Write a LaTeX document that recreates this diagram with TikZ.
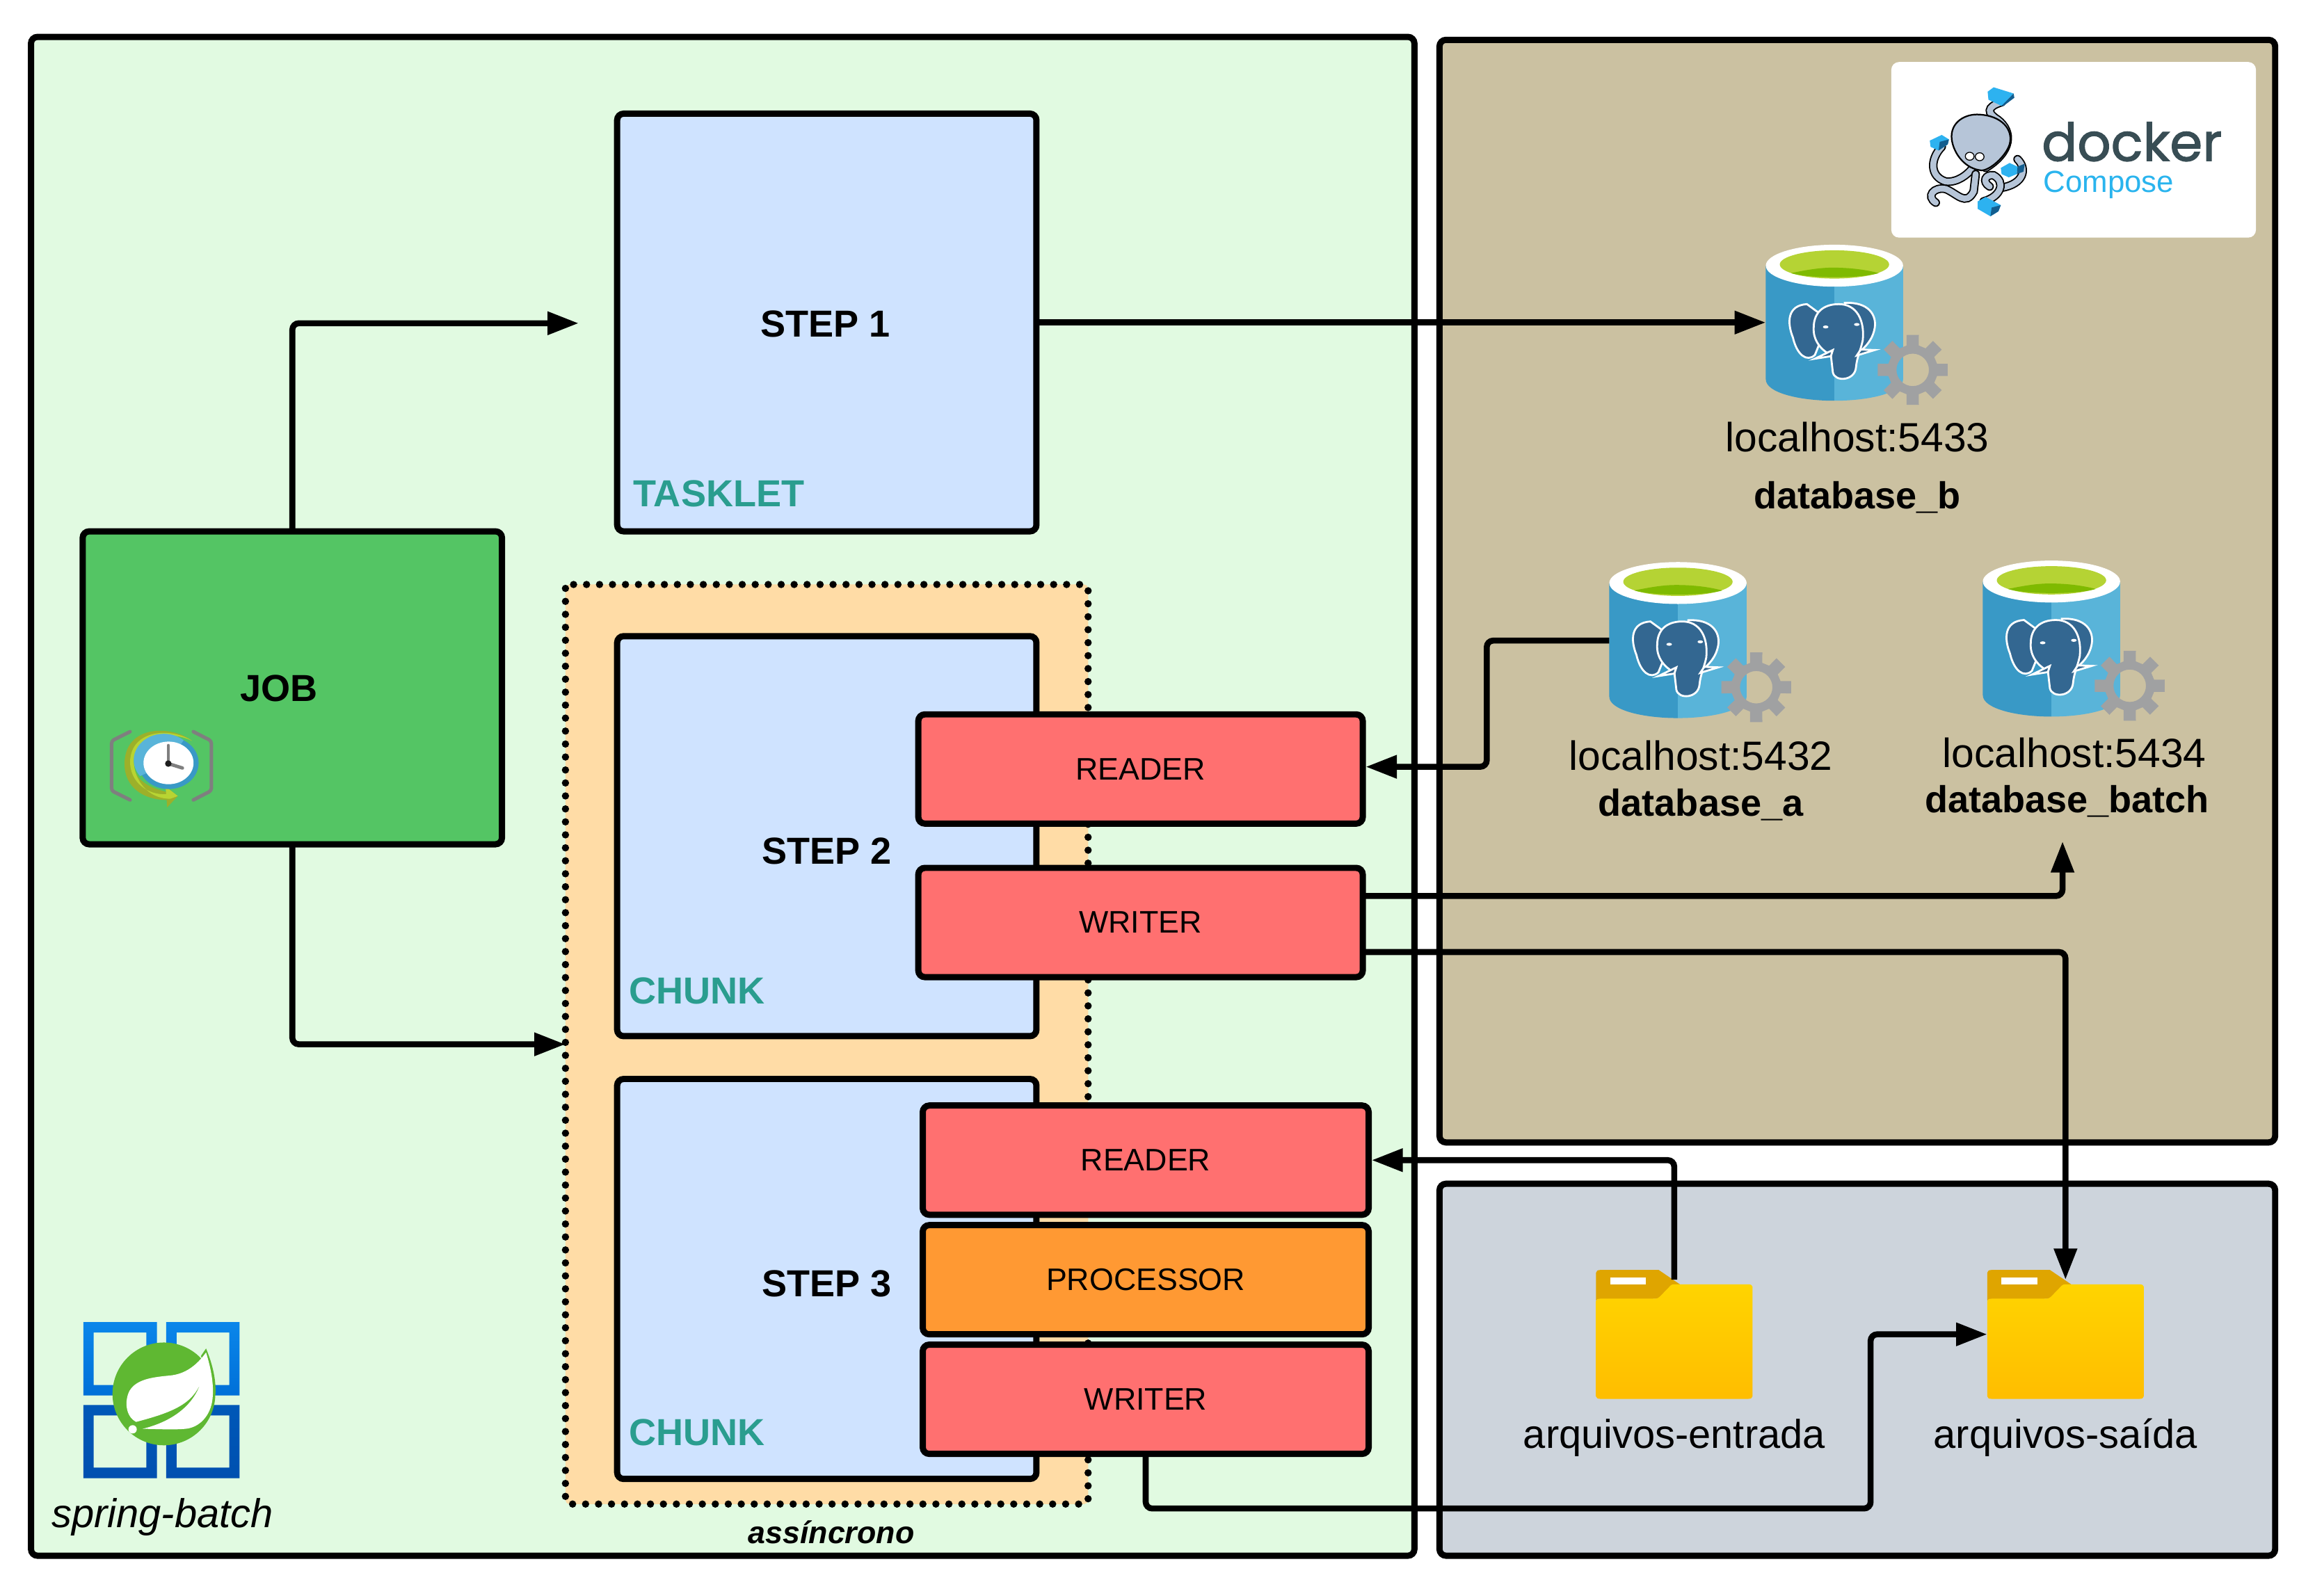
\documentclass[tikz,border=0pt]{standalone}
\usepackage{fontspec}
\setmainfont{Liberation Sans}
\newfontfamily\dockerfont[FakeBold=1.5]{Poppins}
\usetikzlibrary{arrows.meta}
\definecolor{bggreen}{HTML}{E1FAE1}
\definecolor{bgtan}{HTML}{CBC1A1}
\definecolor{bggray}{HTML}{CDD4DC}
\definecolor{stepblue}{HTML}{CFE3FF}
\definecolor{jobgreen}{HTML}{54C564}
\definecolor{asyncorange}{HTML}{FFDCA6}
\definecolor{redbox}{HTML}{FF7070}
\definecolor{orangebox}{HTML}{FF9933}
\definecolor{tealtxt}{HTML}{2A9D8F}
\definecolor{octo}{HTML}{B6C5D8}
\definecolor{cubelight}{HTML}{2DB2F0}
\definecolor{cubedark}{HTML}{135E8F}
\definecolor{dockertxt}{HTML}{384D54}
\definecolor{composetxt}{HTML}{2AB4EE}
\definecolor{gearcol}{HTML}{A0A1A2}
\definecolor{dbdark}{HTML}{3999C6}
\definecolor{dblight}{HTML}{59B4D9}
\definecolor{dblime}{HTML}{B5D334}
\definecolor{dbgreen}{HTML}{7FBA00}
\definecolor{pgblue}{HTML}{336791}
\definecolor{springgreen}{HTML}{5FB832}
\definecolor{foldertab}{HTML}{DFA500}
\definecolor{foldertop}{HTML}{FFD400}
\definecolor{folderbot}{HTML}{FFBD00}
\definecolor{clockgray}{HTML}{7F7F7F}
\definecolor{arrowdark}{HTML}{9CB02A}
\definecolor{arrowlight}{HTML}{B8D432}
\definecolor{clockhub}{HTML}{1E1E1E}
\definecolor{sqtopa}{HTML}{0A86EA}
\definecolor{sqtopb}{HTML}{0070D8}
\definecolor{sqbota}{HTML}{0058B8}
\definecolor{sqbotb}{HTML}{0050B0}
\tikzset{
  wh/.style 2 args={minimum width=#1*0.04cm, minimum height=#2*0.04cm},
  box/.style={draw=black, line width=4.8pt, rounded corners=5pt, inner sep=0pt, outer sep=0pt},
  iconbox/.style={inner sep=0pt, outer sep=0pt},
  steplabel/.style={font=\fontsize{29}{32}\selectfont\bfseries},
  typelabel/.style={font=\fontsize{29}{32}\selectfont\bfseries, text=tealtxt},
  iolabel/.style={font=\fontsize{24}{27}\selectfont},
  dblabel/.style={font=\fontsize{31.5}{34}\selectfont},
  filelabel/.style={font=\fontsize{31}{34}\selectfont},
  dbname/.style={font=\fontsize{29}{32}\selectfont\bfseries},
  conn/.style={draw=black, line width=4.6pt, rounded corners=5pt, -{Triangle[length=24pt,width=17pt]}},
  tent/.style={double=octo, double distance=4.6pt, line width=1pt, line cap=round},
  pics/dbicon/.style={code={
    \fill[dbdark] (-46.5,0) -- (-46.5,77) .. controls (-46.5,86) and (-24,91.5) .. (0,91.5) -- (0,0) -- cycle;
    \fill[dblight] (0,0) -- (0,91.5) .. controls (24,91.5) and (46.5,86) .. (46.5,77) -- (46.5,0) -- cycle;
    \fill[white] (0,0) ellipse (46.5 and 14.2);
    \begin{scope}[xscale=0.27027,yscale=0.16807,shift={(-414,-960)}]
      \fill[dblime] (414,955) ellipse (137 and 57);
      \fill[dbgreen] (305,990) .. controls (350,975) and (380,968) .. (410,968) .. controls (450,968) and (490,975) .. (525,990) .. controls (480,1012) and (350,1012) .. (305,990) -- cycle;
      \begin{scope}[draw=white, fill=pgblue, line width=1.5pt]
        \filldraw (345,1115) .. controls (295,1120) and (295,1190) .. (310,1250) .. controls (320,1320) and (345,1350) .. (365,1320) -- (400,1180) -- cycle;
        \filldraw (440,1110) .. controls (500,1105) and (520,1160) .. (515,1210) .. controls (510,1260) and (490,1290) .. (475,1310) -- (440,1200) -- cycle;
        \filldraw (362,1210) .. controls (362,1150) and (385,1115) .. (425,1115) .. controls (470,1115) and (490,1180) .. (485,1260) .. controls (480,1300) and (470,1330) .. (468,1370) .. controls (465,1425) and (415,1430) .. (410,1390) -- (405,1320) .. controls (380,1300) and (360,1260) .. (362,1210) -- cycle;
        \filldraw (365,1335) -- (410,1300) -- (405,1325) -- cycle;
        \filldraw (470,1322) -- (515,1300) -- (480,1298) -- cycle;
      \end{scope}
      \fill[white] (392,1207) ellipse (7 and 6);
      \fill[white] (470,1197) ellipse (7 and 6);
    \end{scope}
    \begin{scope}[shift={(53,70.6)}]
      \fill[gearcol, even odd rule] (-10:24) \foreach \a in {0,45,...,315}{ -- ({\a-10}:24) -- ({\a+10}:24) -- ({\a+14}:17) -- ({\a+31}:17)} -- cycle
        (0,0) ellipse (11 and 11);
    \end{scope}
  }},
  pics/foldericon/.style={code={
    \begin{scope}[xscale=0.27027,yscale=0.15686,shift={(-274,-416)}]
      \fill[foldertab] (78,150) .. controls (78,142) and (82,138) .. (90,138) -- (235,138) -- (288,200) -- (240,262) -- (78,270) -- cycle;
      \shade[top color=foldertop, bottom color=folderbot]
        (78,272) .. controls (78,265) and (82,262) .. (90,262) -- (225,262) .. controls (232,262) and (235,258) .. (238,253) -- (265,205) .. controls (268,201) and (270,200) .. (275,200) -- (458,200) .. controls (466,200) and (470,204) .. (470,210) -- (470,684) .. controls (470,691) and (466,695) .. (458,695) -- (90,695) .. controls (82,695) and (78,691) .. (78,684) -- cycle;
      \fill[white] (113,170) rectangle (203,200);
    \end{scope}
  }}
}
\begin{document}
\begin{tikzpicture}[x=0.04cm,y=-0.04cm]
\useasboundingbox (0,0) rectangle (1568,1081.3);
\fill[white] (0,0) rectangle (1568,1081.3);
% containers
\node[box, fill=bggreen, wh={937}{1029}] (springarea) at (489.5,539.5) {};
\node[box, fill=bgtan, wh={566}{747}] (composearea) at (1258,400.5) {};
\node[box, fill=bggray, wh={566}{252}] (filearea) at (1258,928) {};
% docker logo
\node[iconbox, fill=white, rounded corners=6pt, wh={247}{119}] (dockerlogo) at (1404.5,101.5) {};
\begin{scope}[shift={(1131.4,18.8)},xscale=0.27027,yscale=0.16807]
  \draw[tent] (830,300) .. controls (790,320) and (795,345) .. (820,370) .. controls (860,420) and (855,500) .. (790,565);
  \draw[tent] (680,480) .. controls (650,530) and (650,600) .. (690,620) .. controls (720,625) and (745,590) .. (755,570);
  \draw[tent] (665,705) .. controls (640,680) and (660,640) .. (690,650) .. controls (720,670) and (740,720) .. (760,660) -- (765,590);
  \draw[tent] (870,530) .. controls (895,570) and (885,630) .. (830,645);
  \draw[tent] (785,700) .. controls (830,680) and (840,620) .. (810,595) .. controls (790,590) and (780,620) .. (800,640);
  \filldraw[draw=black, fill=octo, line width=1.2pt] (705,450) .. controls (700,380) and (740,345) .. (775,350) .. controls (830,355) and (860,410) .. (850,470) .. controls (840,520) and (800,575) .. (780,575) .. controls (740,570) and (710,510) .. (705,450) -- cycle;
  \filldraw[draw=black, fill=white, line width=.7pt] (750,518) ellipse (11 and 16) (775,520) ellipse (11 and 16);
  \fill[cubelight] (795,258) -- (810,240) -- (860,265) -- (830,315) -- (797,290) -- cycle;
  \fill[cubedark] (830,315) -- (860,265) -- (862,282) -- (835,315) -- cycle;
  \fill[cubelight] (650,455) -- (680,432) -- (698,450) -- (695,470) -- (672,495) -- (652,480) -- cycle;
  \fill[cubedark] (672,495) -- (675,460) -- (698,450) -- (695,470) -- cycle;
  \fill[cubelight] (828,565) -- (850,545) -- (870,560) -- (868,590) -- (848,603) -- (830,590) -- cycle;
  \fill[cubedark] (868,590) -- (870,560) -- (888,548) -- (885,580) -- cycle;
  \fill[cubelight] (770,700) -- (790,682) -- (828,715) -- (822,740) -- (802,760) -- (770,730) -- cycle;
  \fill[cubedark] (802,760) -- (805,725) -- (828,715) -- (822,740) -- cycle;
\end{scope}
\node[iconbox, text=dockertxt, font=\dockerfont\fontsize{40.5}{44}\selectfont] (dockerword) at (1444,96) {docker};
\node[iconbox, anchor=west, text=composetxt, font=\fontsize{23.5}{26}\selectfont] (composeword) at (1384,125) {Compose};
% databases
\node[iconbox, wh={93}{106}] (dbB) at (1242.5,218.5) {};
\node[iconbox, wh={93}{106}] (dbA) at (1136.5,434) {};
\node[iconbox, wh={93}{106}] (dbBatch) at (1389.5,433) {};
\pic at (1242.5,180) {dbicon};
\pic at (1136.5,395) {dbicon};
\pic at (1389.5,394) {dbicon};
\node[dblabel] (hostB) at (1258,296) {localhost:5433};
\node[dbname] (nameB) at (1258,337) {database\_b};
\node[dblabel] (hostA) at (1152,512) {localhost:5432};
\node[dbname] (nameA) at (1152,545) {database\_a};
\node[dblabel] (hostBatch) at (1405,510) {localhost:5434};
\node[dbname] (nameBatch) at (1400,543) {database\_batch};
% folders
\node[iconbox, wh={106}{81}] (folderIn) at (1134,907.5) {};
\node[iconbox, wh={106}{81}] (folderOut) at (1399,907.5) {};
\pic at (1134,904) {foldericon};
\pic at (1399,904) {foldericon};
\node[filelabel] (fileIn) at (1134,974) {arquivos-entrada};
\node[filelabel] (fileOut) at (1399,974) {arquivos-saída};
% spring
\node[iconbox, wh={106}{106}] (springlogo) at (110,948) {};
\begin{scope}[shift={(37.6,885.7)},scale=0.15686]
  \shade[even odd rule, top color=sqtopa, bottom color=sqtopb]
    (120,64) rectangle (438,381) (165,109) rectangle (392,336)
    (478,64) rectangle (795,381) (523,109) rectangle (750,336);
  \shade[even odd rule, top color=sqbota, bottom color=sqbotb]
    (120,422) rectangle (438,738) (165,467) rectangle (392,692)
    (478,422) rectangle (795,738) (523,467) rectangle (750,692);
  \fill[springgreen] (468,374) circle (222);
  \fill[springgreen] (628,210) -- (650,178) .. controls (680,250) and (695,320) .. (690,380) -- cycle;
  \fill[white] (348,495) .. controls (300,470) and (298,400) .. (320,360) .. controls (350,310) and (420,302) .. (490,295) .. controls (560,290) and (610,250) .. (650,195) .. controls (670,260) and (685,330) .. (678,395) .. controls (670,470) and (620,520) .. (560,525) .. controls (500,530) and (430,525) .. (375,525) .. controls (480,500) and (590,440) .. (627,325) .. controls (590,420) and (500,455) .. cycle;
  \fill[white] (333,527) circle (18);
\end{scope}
\node[iconbox, font=\fontsize{31}{34}\selectfont\itshape] (springlabel) at (110,1028) {spring-batch};
% job
\node[box, fill=jobgreen, wh={284}{212}] (job) at (198,466) {};
\node[steplabel] (joblabel) at (189,466.5) {JOB};
\begin{scope}[shift={(37.6,470.6)},scale=0.15686]
  \draw[draw=clockgray, line width=2.7pt, line cap=round, line join=round, rounded corners=2pt] (322,160) -- (242,200) -- (242,415) -- (322,455);
  \draw[draw=clockgray, line width=2.7pt, line cap=round, line join=round, rounded corners=2pt] (595,160) -- (673,200) -- (673,415) -- (595,455);
  \fill[arrowdark] (590,200) .. controls (500,130) and (298,130) .. (298,300) .. controls (298,400) and (380,455) .. (480,455) -- (482,487) -- (528,438) -- (475,397) -- (478,420) .. controls (400,400) and (340,370) .. (335,290) .. controls (330,200) and (470,140) .. cycle;
  \fill[arrowlight] (590,200) .. controls (500,140) and (325,150) .. (322,290) .. controls (322,380) and (400,435) .. (478,430) -- (475,397) -- (528,438) -- (495,450) .. controls (400,450) and (340,370) .. (338,290) .. controls (335,210) and (470,140) .. cycle;
  \fill[dbdark] (488,295) ellipse (130 and 113);
  \fill[dblight] (553,197) arc (-49:-218:130 and 113) -- (488,295) -- cycle;
  \fill[white] (488,295) ellipse (108 and 92);
  \draw[draw=clockgray, line width=2.6pt, line cap=round] (487,298) -- (487,220);
  \draw[draw=clockgray, line width=2.6pt, line cap=round] (487,298) -- (548,317);
  \fill[clockhub] (487,298) circle (14);
\end{scope}
% steps
\node[box, fill=stepblue, wh={284}{283}] (step1) at (560,218.5) {};
\node[steplabel] (step1label) at (559,219.5) {STEP 1};
\node[typelabel] (taskletlabel) at (487,334.5) {TASKLET};
\node[box, fill=asyncorange, draw=none, rounded corners=3pt, wh={354}{623}] (asyncbox) at (560,707.5) {};
\draw[line width=5.6pt, line cap=round, dash pattern=on 0pt off 10pt, rounded corners=3pt] (asyncbox.north west) rectangle (asyncbox.south east);
\node[iconbox, font=\fontsize{24}{27}\selectfont\bfseries\itshape] (asynclabel) at (563,1038) {assíncrono};
\node[box, fill=stepblue, wh={284}{271}] (step2) at (560,566.5) {};
\node[steplabel] (step2label) at (560,576.5) {STEP 2};
\node[typelabel] (chunk2label) at (472,671.5) {CHUNK};
\node[box, fill=stepblue, wh={284}{271}] (step3) at (560,866.5) {};
\node[steplabel] (step3label) at (560,869.5) {STEP 3};
\node[typelabel] (chunk3label) at (472,970.5) {CHUNK};
\node[box, fill=redbox, wh={301}{74}, iolabel] (reader2) at (772.5,521) {READER};
\node[box, fill=redbox, wh={301}{74}, iolabel] (writer2) at (772.5,625) {WRITER};
\node[box, fill=redbox, wh={302}{74}, iolabel] (reader3) at (776,786) {READER};
\node[box, fill=orangebox, wh={302}{74}, iolabel] (processor3) at (776,867) {PROCESSOR};
\node[box, fill=redbox, wh={302}{74}, iolabel] (writer3) at (776,948) {WRITER};
% connectors
\coordinate (step1in) at (392,219);
\coordinate (batchin) at (1397,570);
\coordinate (lowturn) at (1267,1022);
\coordinate (bendA) at (1007,434);
\draw[conn] (job.north) |- (step1in);
\draw[conn] (job.south) |- (asyncbox.west);
\draw[conn] (step1.east) -- (dbB.west);
\draw[conn] (dbA.west) -- (bendA) |- ([shift={(2,-1.5)}]reader2.east);
\draw[conn] ([yshift=0.72cm]writer2.east) -| (batchin);
\draw[conn] ([yshift=-0.8cm]writer2.east) -| (folderOut.north);
\draw[conn] (folderIn.north) |- ([xshift=0.08cm]reader3.east);
\draw[conn] (writer3.south) |- (lowturn) |- ([yshift=0.14cm]folderOut.west);
\end{tikzpicture}
\end{document}
